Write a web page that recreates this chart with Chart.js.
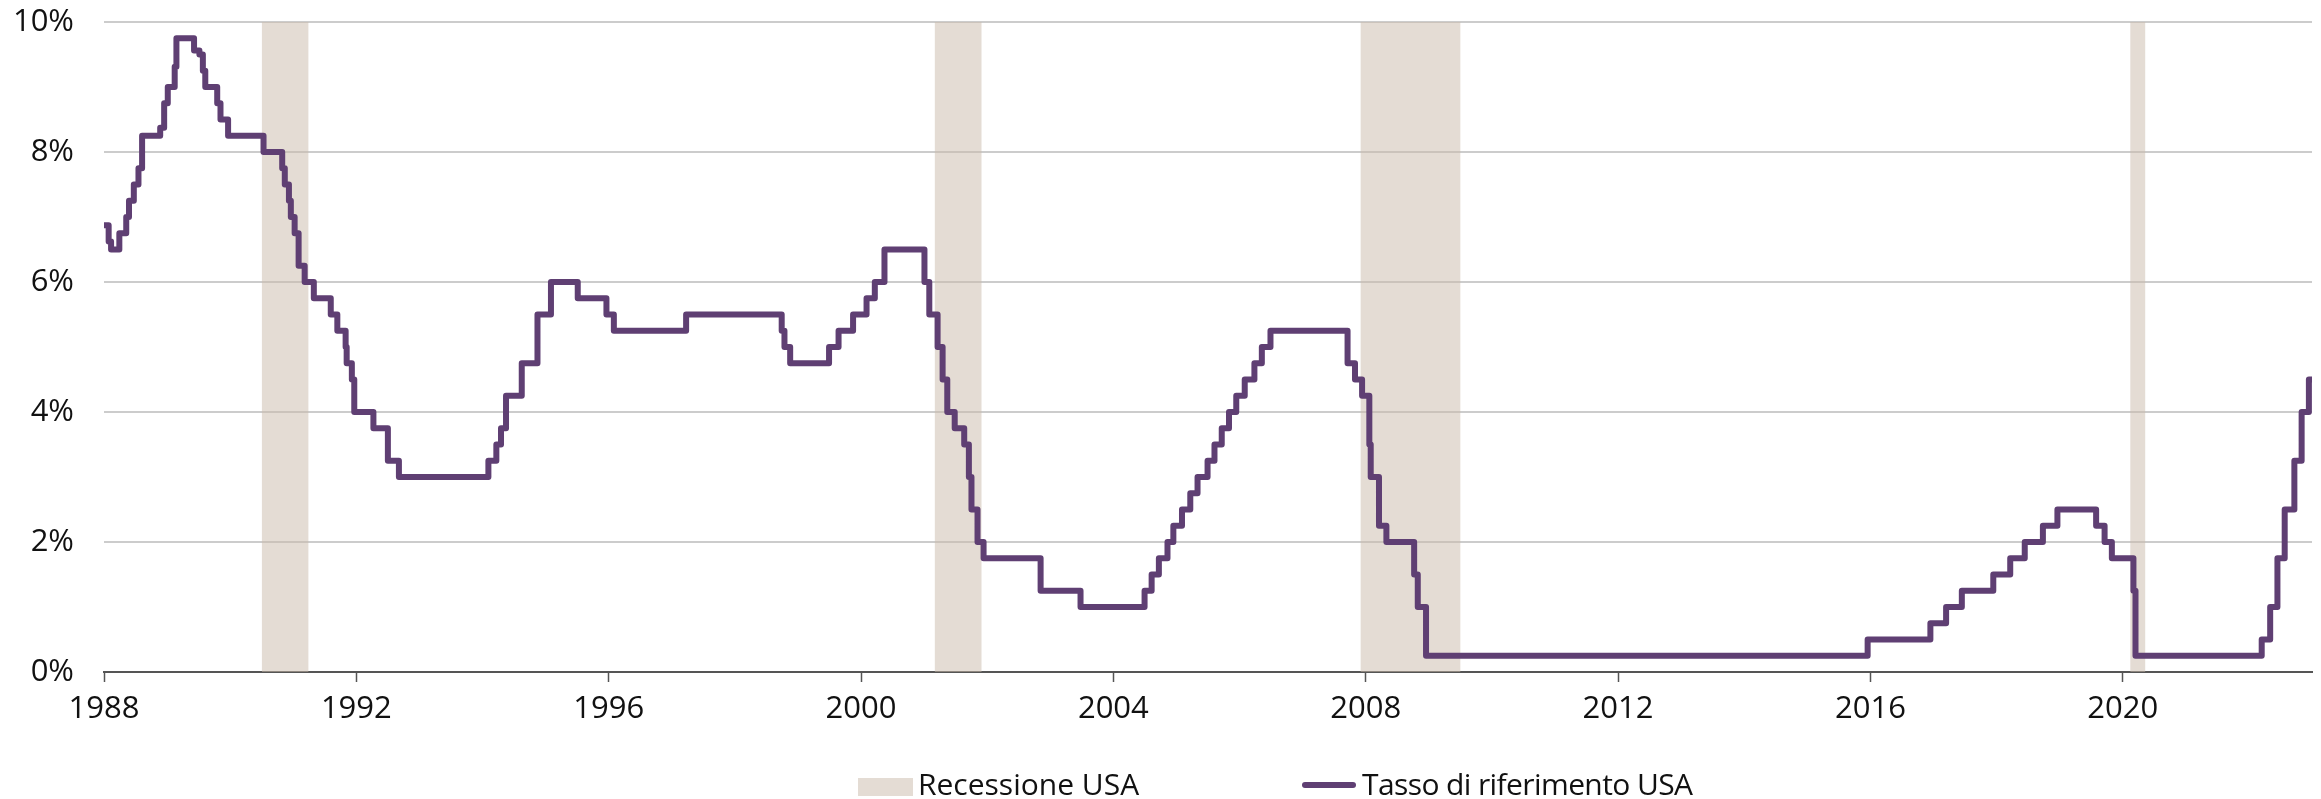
<!DOCTYPE html>
<html>
<head>
<meta charset="utf-8">
<script src="https://cdn.jsdelivr.net/npm/chart.js@4.4.1/dist/chart.umd.min.js"></script>
<style>
  html, body { margin: 0; padding: 0; background: #fff; }
  #wrap { position: relative; width: 2321px; height: 799px; overflow: hidden; }
  canvas { position: absolute; left: 0; top: 0; }
  .lg { position: absolute; font-family: "Open Sans", sans-serif; font-size: 30px; color: #111; line-height: 41px; white-space: nowrap; }
  .box { position: absolute; }
</style>
</head>
<body>
<div id="wrap">
  <canvas id="c" width="2321" height="799"></canvas>
  <div class="box" style="left:858px;top:778px;width:55px;height:18px;background:#e4dcd4;"></div>
  <div class="lg" style="left:918px;top:763px;">Recessione USA</div>
  <div class="box" style="left:1302px;top:782px;width:54px;height:6px;border-radius:3px;background:#5f3f73;"></div>
  <div class="lg" style="left:1362px;top:763px;letter-spacing:-0.6px;">Tasso di riferimento USA</div>
</div>
<script>
// Fed funds target rate (upper bound), change dates and values
const rateDates = [
 "1988-01-01","1988-01-28","1988-02-11","1988-03-30","1988-05-09","1988-05-25","1988-06-22","1988-07-19",
 "1988-08-09","1988-11-22","1988-12-15","1989-01-05","1989-02-14","1989-02-24","1989-06-06","1989-07-07",
 "1989-07-27","1989-08-10","1989-10-18","1989-11-06","1989-12-20","1990-07-13","1990-10-29","1990-11-13",
 "1990-12-07","1990-12-18","1991-01-09","1991-02-01","1991-03-08","1991-04-30","1991-08-06","1991-09-13",
 "1991-10-31","1991-11-06","1991-12-06","1991-12-20","1992-04-09","1992-07-02","1992-09-04","1994-02-04",
 "1994-03-22","1994-04-18","1994-05-17","1994-08-16","1994-11-15","1995-02-01","1995-07-06","1995-12-19",
 "1996-01-31","1997-03-25","1998-09-29","1998-10-15","1998-11-17","1999-06-30","1999-08-24","1999-11-16",
 "2000-02-02","2000-03-21","2000-05-16","2001-01-03","2001-01-31","2001-03-20","2001-04-18","2001-05-15",
 "2001-06-27","2001-08-21","2001-09-17","2001-10-02","2001-11-06","2001-12-11","2002-11-06","2003-06-25",
 "2004-06-30","2004-08-10","2004-09-21","2004-11-10","2004-12-14","2005-02-02","2005-03-22","2005-05-03",
 "2005-06-30","2005-08-09","2005-09-20","2005-11-01","2005-12-13","2006-01-31","2006-03-28","2006-05-10",
 "2006-06-29","2007-09-18","2007-10-31","2007-12-11","2008-01-22","2008-01-30","2008-03-18","2008-04-30",
 "2008-10-08","2008-10-29","2008-12-16","2015-12-16","2016-12-14","2017-03-15","2017-06-14","2017-12-13",
 "2018-03-21","2018-06-13","2018-09-26","2018-12-19","2019-07-31","2019-09-18","2019-10-30","2020-03-03",
 "2020-03-15","2022-03-16","2022-05-04","2022-06-15","2022-07-27","2022-09-21","2022-11-02","2022-12-14",
 "2022-12-31"
];
const rateValues = [
 6.875,6.625,6.5,6.75,7.0,7.25,7.5,7.75,
 8.25,8.375,8.75,9.0,9.3125,9.75,9.5625,9.5,
 9.25,9.0,8.75,8.5,8.25,8.0,7.75,7.5,
 7.25,7.0,6.75,6.25,6.0,5.75,5.5,5.25,
 5.0,4.75,4.5,4.0,3.75,3.25,3.0,3.25,
 3.5,3.75,4.25,4.75,5.5,6.0,5.75,5.5,
 5.25,5.5,5.25,5.0,4.75,5.0,5.25,5.5,
 5.75,6.0,6.5,6.0,5.5,5.0,4.5,4.0,
 3.75,3.5,3.0,2.5,2.0,1.75,1.25,1.0,
 1.25,1.5,1.75,2.0,2.25,2.5,2.75,3.0,
 3.25,3.5,3.75,4.0,4.25,4.5,4.75,5.0,
 5.25,4.75,4.5,4.25,3.5,3.0,2.25,2.0,
 1.5,1.0,0.25,0.5,0.75,1.0,1.25,1.5,
 1.75,2.0,2.25,2.5,2.25,2.0,1.75,1.25,
 0.25,0.5,1.0,1.75,2.5,3.25,4.0,4.5,
 4.5
];
// US recessions (start, end) as decimal years
const recessionStarts = [1990.5, 2001.17, 2007.92, 2020.12];
const recessionEnds   = [1991.24, 2001.91, 2009.5, 2020.36];
const xTickYears = [1988, 1992, 1996, 2000, 2004, 2008, 2012, 2016, 2020];
const yTickValues = [0, 2, 4, 6, 8, 10];
const seriesLabels = ["Tasso di riferimento USA", "Recessione USA"];

function toYear(s) {
  const [y, m, d] = s.split("-").map(Number);
  const start = Date.UTC(y, 0, 1), end = Date.UTC(y + 1, 0, 1);
  return y + (Date.UTC(y, m - 1, d) - start) / (end - start);
}

const ratePoints = rateDates.map((d, i) => ({ x: toYear(d), y: rateValues[i] }));
const recPoints = [];
recessionStarts.forEach((s, i) => {
  const e = recessionEnds[i];
  recPoints.push({ x: s, y: 0 }, { x: s, y: 10 }, { x: e, y: 10 }, { x: e, y: 0 });
});

const tickFont = { family: "'Open Sans', sans-serif", size: 31 };

new Chart(document.getElementById("c"), {
  type: "line",
  data: {
    datasets: [
      {
        label: seriesLabels[0],
        data: ratePoints,
        stepped: "before",
        borderColor: "#5f3f73",
        borderWidth: 6,
        borderJoinStyle: "round",
        borderCapStyle: "round",
        pointRadius: 0,
        fill: false,
        order: 0
      },
      {
        label: seriesLabels[1],
        data: recPoints,
        borderWidth: 0,
        pointRadius: 0,
        fill: "origin",
        backgroundColor: "rgba(201,185,169,0.5)",
        tension: 0,
        order: 1
      }
    ]
  },
  options: {
    responsive: false,
    animation: false,
    devicePixelRatio: 1,
    layout: { padding: { top: 22, right: 9, left: 0, bottom: 0 } },
    plugins: { legend: { display: false }, tooltip: { enabled: false } },
    scales: {
      x: {
        type: "linear",
        min: 1988,
        max: 2023,
        afterBuildTicks: (s) => { s.ticks = xTickYears.map(v => ({ value: v })); },
        afterFit: (s) => { s.height = 127; },
        grid: { drawOnChartArea: false, drawTicks: true, tickLength: 10, tickColor: "#555", tickWidth: 1.5 },
        border: { display: true, color: "#555", width: 2 },
        ticks: { font: tickFont, color: "#111", padding: 9, maxRotation: 0, autoSkip: false, callback: v => String(v) }
      },
      y: {
        min: 0,
        max: 10,
        afterBuildTicks: (s) => { s.ticks = yTickValues.map(v => ({ value: v })); },
        afterFit: (s) => { s.width = 104; },
        grid: { color: "#cccccc", lineWidth: 2, drawTicks: true, tickLength: 30, tickColor: "rgba(0,0,0,0)" },
        border: { display: false },
        ticks: { font: tickFont, color: "#111", padding: 0, callback: v => v + "%" }
      }
    }
  }
});
</script>
</body>
</html>
